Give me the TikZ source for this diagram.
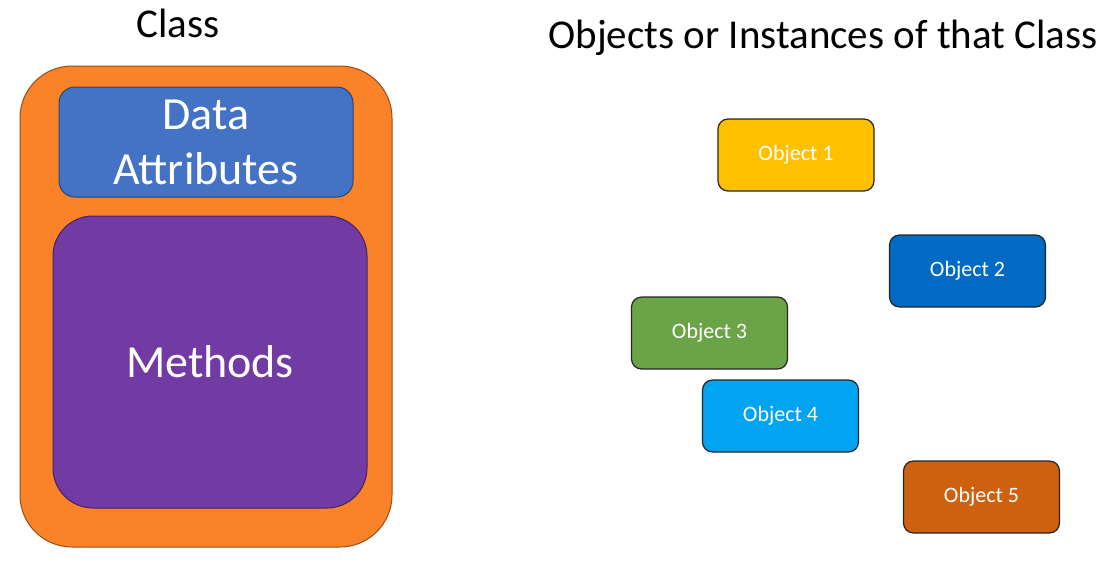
\documentclass[tikz,border=0pt]{standalone}
\usepackage{fontspec}
\setmainfont{Carlito}
\usepackage{tikz}

\definecolor{classorange}{RGB}{250,130,40}
\definecolor{attrblue}{RGB}{68,114,196}
\definecolor{methpurple}{RGB}{114,58,163}
\definecolor{objyellow}{RGB}{255,192,0}
\definecolor{objblue}{RGB}{0,106,196}
\definecolor{objgreen}{RGB}{106,164,70}
\definecolor{objcyan}{RGB}{0,164,240}
\definecolor{objbrown}{RGB}{206,96,16}

\begin{document}
\begin{tikzpicture}[x=1pt, y=-1pt, main/.style={draw=#1!60!black, rectangle, inner sep=0pt, line width=1pt}, obj/.style={draw=black!85, fill=#1, rectangle, rounded corners=10pt, minimum width=156pt, minimum height=72pt, inner sep=0pt, line width=1.2pt, text=white, font=\fontsize{22}{26}\selectfont}, title/.style={font=\fontsize{41}{48}\selectfont}]
            \useasboundingbox (0,0) rectangle (1120,563);
            % titles
            \node[title] (classtitle) at (178,23) {Class};
            \node[title] (objtitle) at (823,38) {Objects or Instances of that Class};
            % class
            \node[main=classorange, fill=classorange, rounded corners=52pt, minimum width=372pt, minimum height=481pt] (class) at (206,306.5) {};
            \node[main=attrblue, fill=attrblue, rounded corners=16pt, minimum width=294pt, minimum height=110pt, text=white, align=center, font=\fontsize{46}{55}\selectfont] (attr) at (206,142) {Data\\Attributes};
            \node[main=methpurple, fill=methpurple, rounded corners=40pt, minimum width=314pt, minimum height=292pt, text=white, font=\fontsize{46}{54}\selectfont] (meth) at (210,362) {Methods};
            % objects
            \node[obj=objyellow] (o1) at (796,155) {Object 1};
            \node[obj=objblue] (o2) at (967.5,271) {Object 2};
            \node[obj=objgreen] (o3) at (709.5,333) {Object 3};
            \node[obj=objcyan] (o4) at (780.5,416) {Object 4};
            \node[obj=objbrown] (o5) at (981.5,497) {Object 5};
        \end{tikzpicture}
\end{document}
